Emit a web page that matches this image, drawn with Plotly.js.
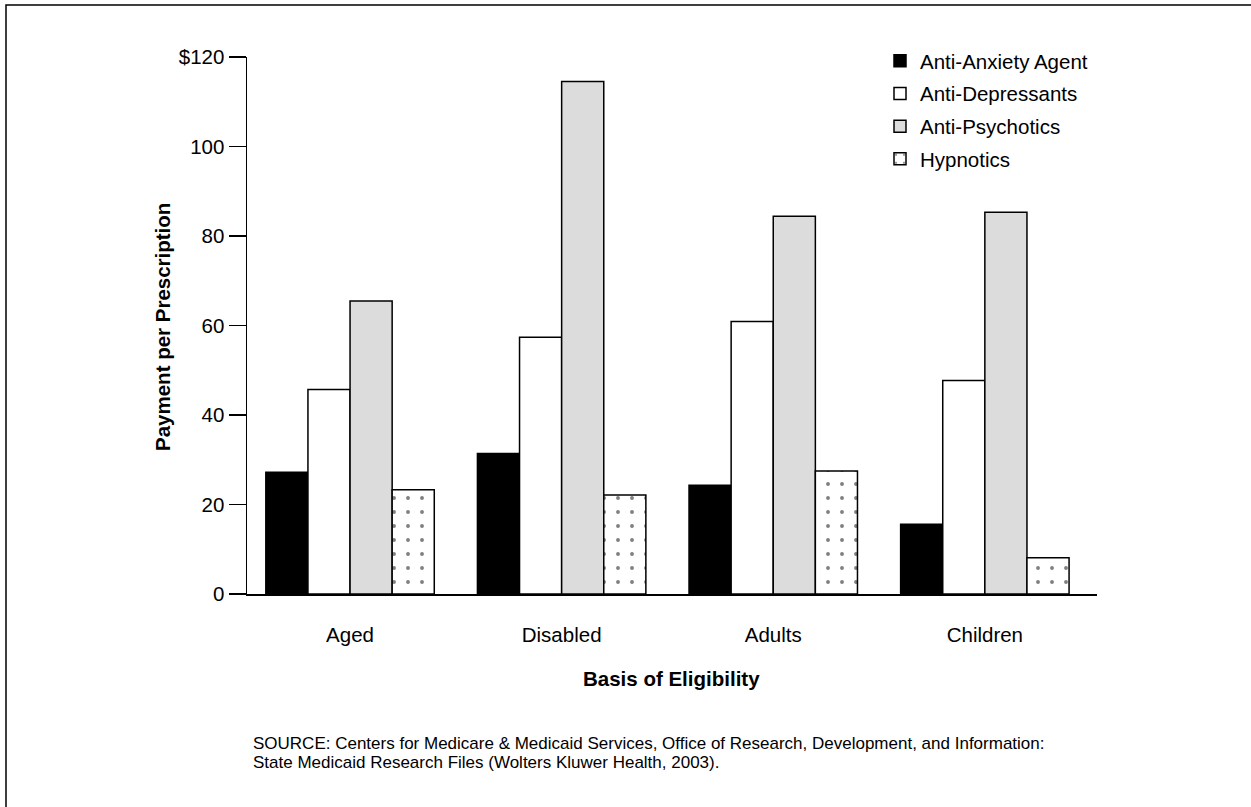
<!DOCTYPE html>
<html>
<head>
<meta charset="utf-8">
<script src="https://cdn.plot.ly/plotly-3.0.1.min.js"></script>
<style>
html,body{margin:0;padding:0;background:#fff;}
#chart{width:1251px;height:807px;}
</style>
</head>
<body>
<div id="chart"></div>
<script>
const categories = ["Aged", "Disabled", "Adults", "Children"];
const antiAnxiety = [27.2, 31.4, 24.3, 15.6];
const antiDepressants = [45.7, 57.4, 60.9, 47.7];
const antiPsychotics = [65.5, 114.5, 84.4, 85.3];
const hypnotics = [23.3, 22.1, 27.5, 8.1];
const seriesNames = ["Anti-Anxiety Agent", "Anti-Depressants", "Anti-Psychotics", "Hypnotics"];
const yTickVals = [0, 20, 40, 60, 80, 100, 120];
const yTickText = ["0", "20", "40", "60", "80", "100", "$120"];
const sourceLines = [
  "SOURCE: Centers for Medicare &amp; Medicaid Services, Office of Research, Development, and Information:",
  "State Medicaid Research Files (Wolters Kluwer Health, 2003)."
];

const FONT = "Liberation Sans, Arial, Helvetica, sans-serif";
const FS = 20.5;
const line = {color: "#000", width: 1.5};

function bar(name, y, fill, pattern, grp) {
  const t = {
    type: "bar", name: name, x: categories, y: y,
    legendgroup: grp,
    marker: {color: fill, line: line},
    hoverinfo: "x+y+name"
  };
  if (pattern) t.marker.pattern = pattern;
  return t;
}

const data = [
  bar(seriesNames[0], antiAnxiety, "#000000", null, "g1"),
  bar(seriesNames[1], antiDepressants, "#ffffff", null, "g2"),
  bar(seriesNames[2], antiPsychotics, "#dcdcdc", null, "g3"),
  bar(seriesNames[3], hypnotics, "#ffffff",
      {shape: ".", fgcolor: "#000000", bgcolor: "#ffffff", size: 14, solidity: 0.06, fillmode: "overlay"}, "g4")
];

const px = v => (v - 247) / 850;
const py = v => (594 - v) / 537;

const layout = {
  width: 1251, height: 807,
  paper_bgcolor: "#fff", plot_bgcolor: "#fff",
  font: {family: FONT, size: FS, color: "#000"},
  margin: {l: 247, r: 154, t: 57, b: 213, pad: 0},
  barmode: "group",
  bargap: 0.204,
  bargroupgap: 0,
  showlegend: true,
  legend: {
    x: px(880), y: py(41), xanchor: "left", yanchor: "top",
    font: {family: FONT, size: FS, color: "#000"},
    bgcolor: "rgba(0,0,0,0)", borderwidth: 0,
    tracegroupgap: 3, itemwidth: 30,
    traceorder: "grouped"
  },
  xaxis: {
    type: "category",
    range: [-0.487, 3.53],
    showline: true, linecolor: "#000", linewidth: 1.5,
    showgrid: false, zeroline: false,
    ticks: "", ticklen: 0,
    ticklabelstandoff: 22,
    tickfont: {family: FONT, size: FS, color: "#000"},
    fixedrange: true
  },
  yaxis: {
    range: [0, 120],
    tickvals: yTickVals, ticktext: yTickText,
    ticks: "outside", ticklen: 17, tickwidth: 1.5, tickcolor: "#000",
    showline: true, linecolor: "#000", linewidth: 1.5,
    showgrid: false, zeroline: false,
    tickfont: {family: FONT, size: FS, color: "#000"},
    fixedrange: true
  },
  annotations: [
    {text: "<b>Basis of Eligibility</b>", xref: "paper", yref: "paper",
     x: px(671), y: py(678), xanchor: "center", yanchor: "middle",
     showarrow: false, font: {family: FONT, size: FS, color: "#000"}},
    {text: "<b>Payment per Prescription</b>", xref: "paper", yref: "paper",
     x: px(162), y: py(327), xanchor: "center", yanchor: "middle",
     textangle: -90, showarrow: false, font: {family: FONT, size: FS, color: "#000"}},
    {text: sourceLines[0], xref: "paper", yref: "paper",
     x: px(251), y: py(743), xanchor: "left", yanchor: "middle",
     align: "left", showarrow: false, font: {family: FONT, size: 17, color: "#000"}},
    {text: sourceLines[1], xref: "paper", yref: "paper",
     x: px(251), y: py(762), xanchor: "left", yanchor: "middle",
     align: "left", showarrow: false, font: {family: FONT, size: 17, color: "#000"}}
  ],
  shapes: [
    {type: "rect", xref: "paper", yref: "paper",
     x0: px(6), x1: 1.3, y0: -0.5, y1: py(5),
     line: {color: "#000", width: 1.5}, fillcolor: "rgba(0,0,0,0)", layer: "below"}
  ]
};

Plotly.newPlot("chart", data, layout, {displayModeBar: false, staticPlot: true});
</script>
</body>
</html>
